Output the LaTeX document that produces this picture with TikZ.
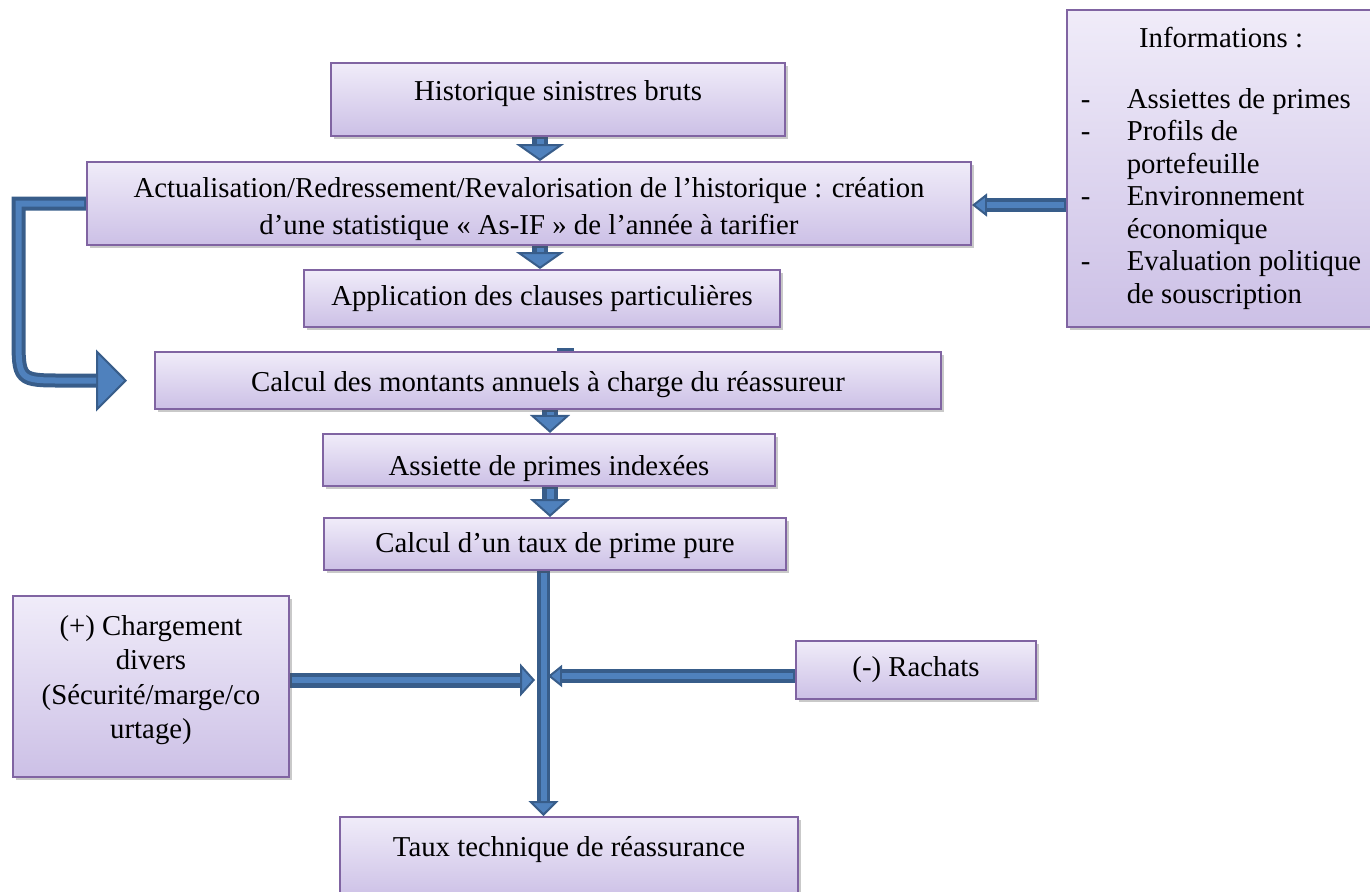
\documentclass[tikz,border=0pt]{standalone}
\usepackage{fontspec}
\setmainfont{Liberation Serif}
\usetikzlibrary{arrows.meta, calc, shadows, backgrounds}
\definecolor{boxline}{RGB}{128,100,162}
\definecolor{boxtop}{RGB}{240,236,249}
\definecolor{boxbottom}{RGB}{204,192,230}
\definecolor{arrowdark}{RGB}{56,93,138}
\definecolor{arrowblue}{RGB}{79,129,189}

\begin{document}
\begin{tikzpicture}[x=0.5pt, y=-0.5pt, font=\fontsize{14.4}{16.6}\selectfont,
    box/.style={draw=boxline, line width=1pt, top color=boxtop, bottom color=boxbottom,
      align=center, inner sep=2pt,
      drop shadow={shadow xshift=1.5pt, shadow yshift=-1.5pt, opacity=.3, fill=black!70}},
    blk/.style n args={4}{draw=arrowdark, line width=#1,
      -{Triangle[length=#3, width=#4, line width=1pt, fill=arrowblue]},
      postaction={draw=arrowblue, line width=#2, -, shorten >=#3, shorten <=1pt}}]
    \useasboundingbox (0,0) rectangle (1370,891);
    % main column
    \node[box, minimum width=227pt, minimum height=36.5pt, text depth=9.5pt] (hist) at (558,99.5) {Historique sinistres bruts};
    \node[box, minimum width=442pt, minimum height=41.5pt, inner ysep=0pt, font=\fontsize{14.4}{18.5}\selectfont] (act) at (529,203.5)
      {\rule{0pt}{16pt}Actualisation/Redressement/Revalorisation de l’historique : création\\d’une statistique « As-IF » de l’année à tarifier};
    \node[box, minimum width=238pt, minimum height=28.5pt] (app) at (542,298.5) {Application des clauses particulières};
    \node[box, minimum width=393pt, minimum height=28.5pt, text height=14pt] (calc) at (548,380.5) {Calcul des montants annuels à charge du réassureur};
    \node[box, minimum width=226pt, minimum height=26pt, text height=19pt] (assi) at (549,460) {Assiette de primes indexées};
    \node[box, minimum width=231pt, minimum height=26pt, text height=12pt] (taux) at (555,544) {Calcul d’un taux de prime pure};
    \node[box, minimum width=229pt, minimum height=41pt, text depth=11.5pt] (tech) at (569,858) {Taux technique de réassurance};
    % side boxes
    \node[box, minimum width=138pt, minimum height=90.5pt, font=\fontsize{14.4}{17.2}\selectfont] (charg) at (151,686.5)
      {(+) Chargement\\divers\\(Sécurité/marge/co\\urtage)\rule[-9.5pt]{0pt}{10pt}};
    \node[box, minimum width=120pt, minimum height=29pt] (rach) at (916,670) {(-) Rachats};
    \node[box, minimum width=154pt, minimum height=158.5pt, font=\fontsize{14.4}{16.25}\selectfont] (info) at (1221,168.5) {%
      \begin{tabular}{@{}p{23pt}@{}l@{}}
        \multicolumn{2}{c}{Informations :}\\[14.25pt]
        - & Assiettes de primes\\
        - & Profils de\\
          & portefeuille\\
        - & Environnement\\
          & économique\\
        - & Evaluation politique\\
          & de souscription
      \end{tabular}};
    \coordinate (jL) at (535,680);
    \coordinate (jR) at (548,676);
    \begin{pgfonlayer}{background}
      \draw[blk={8pt}{3.5pt}{8.5pt}{24pt}] (hist.south -| 540,0) -- (act.north -| 540,0);
      \draw[blk={8pt}{3.5pt}{8.5pt}{24pt}] (act.south -| 540,0) -- (app.north -| 540,0);
      \fill[arrowdark] ([xshift=4.5pt]calc.north) rectangle ++(17,-3);
      \draw[blk={8pt}{3.5pt}{9pt}{20pt}] (calc.south -| 550,0) -- (assi.north -| 550,0);
      \draw[blk={8pt}{3.5pt}{9pt}{20pt}] (assi.south -| 550,0) -- (taux.north -| 550,0);
      \draw[blk={6.5pt}{3pt}{7.5pt}{15pt}] (taux.south -| 543.5,0) -- (tech.north -| 543.5,0);
      \draw[blk={7.5pt}{3pt}{7.5pt}{16.5pt}] (charg.east |- jL) -- (jL);
      \draw[blk={7pt}{3pt}{7pt}{11pt}] (rach.west |- jR) -- (jR);
      \draw[blk={7pt}{3pt}{7.5pt}{11.5pt}] (info.west |- 0,205) -- (act.east |- 0,205);
      \draw[blk={7pt}{3pt}{15.5pt}{31pt}] (act.west) -- (18.5,203.5) -- (18.5,335.5)
        .. controls (18.5,380.5) .. (63.5,380.5) -- ([xshift=-13.5pt]calc.west);
    \end{pgfonlayer}
  \end{tikzpicture}
\end{document}
